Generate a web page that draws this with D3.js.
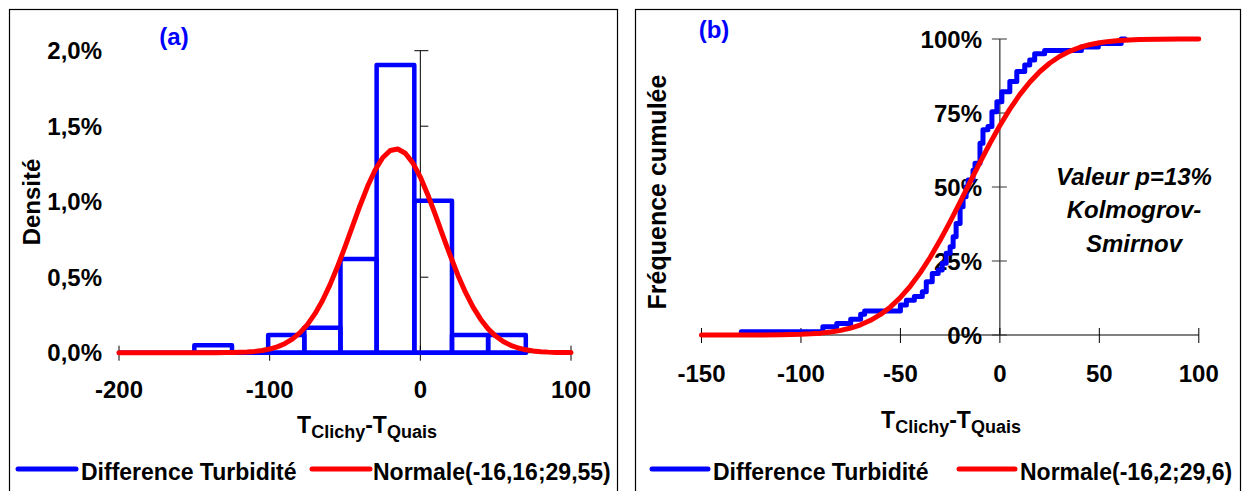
<!DOCTYPE html>
<html>
<head>
<meta charset="utf-8">
<script src="https://cdn.jsdelivr.net/npm/d3@7"></script>
<style>
  html, body { margin: 0; padding: 0; background: #fff; }
  svg { display: block; font-family: "Liberation Sans", Arial, sans-serif; }
</style>
</head>
<body>
<svg id="chart" width="1242" height="491"></svg>
<script>
// ---------- DATA ----------
// Panel (a): histogram of differences (density, %)
const binEdges = [-150, -125, -101, -77, -53, -29, -4, 21, 45, 70];
const binDensity = [0.05, 0, 0.117, 0.166, 0.62, 1.905, 1.007, 0.117, 0.117];
// Panel (a): fitted normal density (%)
const normX = [-200, -195, -190, -185, -180, -175, -170, -165, -160, -155,
  -150, -145, -140, -135, -130, -125, -120, -115, -110, -105,
  -100, -95, -90, -85, -80, -75, -70, -65, -60, -55,
  -50, -45, -40, -35, -30, -25, -20, -15, -10, -5,
  0, 5, 10, 15, 20, 25, 30, 35, 40, 45,
  50, 55, 60, 65, 70, 75, 80, 85, 90, 95, 100];
const normY = [0, 0, 0, 0, 0, 0, 0, 0, 0, 0,
  0.0001, 0.0001, 0.0002, 0.0004, 0.0008, 0.0015, 0.0028, 0.005, 0.0087, 0.0147,
  0.0241, 0.0384, 0.0595, 0.0895, 0.131, 0.186, 0.257, 0.344, 0.449, 0.569,
  0.701, 0.838, 0.975, 1.102, 1.210, 1.291, 1.339, 1.349, 1.321, 1.257,
  1.163, 1.045, 0.912, 0.774, 0.639, 0.512, 0.399, 0.302, 0.222, 0.158,
  0.110, 0.074, 0.049, 0.031, 0.019, 0.012, 0.007, 0.0038, 0.0021, 0.0011, 0.0006];
const yTicksA = [0, 0.5, 1.0, 1.5, 2.0];
const yTickLabelsA = ["0,0%", "0,5%", "1,0%", "1,5%", "2,0%"];
const xTicksA = [-200, -100, 0, 100];

// Panel (b): empirical cumulative frequency (%)
const ecdfX = [-130, -89, -82, -75, -70, -68, -50, -47, -43, -39, -37, -34, -31, -29, -27, -25,
  -23.5, -22, -20, -18.5, -17, -16, -13.5, -12.5, -10, -8.5, -6, -4, -1.5, 1, 5, 8.5,
  12.5, 15, 17.5, 22.5, 41, 49.5, 61, 63];
const ecdfY = [1.1, 2.8, 3.9, 5.3, 7.0, 8.1, 10.1, 11.7, 13.0, 14.6, 18.0, 20.8, 22.0, 24.2, 27.6, 29.8,
  33.2, 37.7, 43.3, 46.7, 50.1, 52.4, 55.7, 58.0, 64.8, 69.3, 70.4, 75.4, 78.8, 82.2, 85.6, 89.0,
  91.2, 92.9, 95.0, 96.1, 97.3, 98.5, 100, 100];
// Panel (b): fitted normal cumulative (%)
const cdfX = [-150, -140, -130, -120, -110, -100, -95, -90, -85, -80, -75, -70, -65, -60, -55,
  -50, -45, -40, -35, -30, -25, -20, -15, -10, -5, 0, 5, 10, 15, 20, 25, 30, 35, 40, 45,
  50, 55, 60, 70, 80, 90, 100];
const cdfY = [0, 0, 0.01, 0.02, 0.08, 0.23, 0.39, 0.63, 1.01, 1.56, 2.35, 3.46, 4.96, 6.94, 9.49,
  12.68, 16.53, 21.07, 26.27, 32.06, 38.32, 44.90, 51.62, 58.30, 64.74, 70.79, 76.31, 81.19, 85.41, 88.93, 91.80, 94.07, 95.82, 97.12, 98.07,
  98.73, 99.19, 99.50, 99.82, 99.94, 99.98, 100];
const yTicksB = [0, 25, 50, 75, 100];
const yTickLabelsB = ["0%", "25%", "50%", "75%", "100%"];
const xTicksB = [-150, -100, -50, 0, 50, 100];

const seriesNames = ["Difference Turbidité"];
const normNameA = "Normale(-16,16;29,55)";
const normNameB = "Normale(-16,2;29,6)";

// ---------- DRAW ----------
const BLUE = "#0000ff", RED = "#ff0000";
const svg = d3.select("#chart");

// frames
svg.append("rect").attr("x", 9.5).attr("y", 9.5).attr("width", 608).attr("height", 500)
  .attr("fill", "none").attr("stroke", "#000").attr("stroke-width", 1.2);
svg.append("rect").attr("x", 635.5).attr("y", 9.5).attr("width", 605).attr("height", 500)
  .attr("fill", "none").attr("stroke", "#000").attr("stroke-width", 1.2);

function subTitle(g, cx, baseY) {
  const t = g.append("text").attr("x", cx).attr("y", baseY).attr("text-anchor", "middle")
    .attr("font-weight", "bold").attr("fill", "#000");
  t.append("tspan").attr("font-size", 23).text("T");
  t.append("tspan").attr("font-size", 18).attr("dy", 5).text("Clichy");
  t.append("tspan").attr("font-size", 23).attr("dy", -5).text("-T");
  t.append("tspan").attr("font-size", 18).attr("dy", 5).text("Quais");
}

function legend(g, x0, lineW, texts, textX2, lineX2, y) {
  g.append("line").attr("x1", x0).attr("x2", x0 + lineW).attr("y1", y).attr("y2", y)
    .attr("stroke", BLUE).attr("stroke-width", 5).attr("stroke-linecap", "round");
  g.append("text").attr("x", x0 + lineW + 5).attr("y", y + 11).attr("font-size", 23)
    .attr("font-weight", "bold").text(texts[0]);
  g.append("line").attr("x1", lineX2).attr("x2", lineX2 + lineW).attr("y1", y).attr("y2", y)
    .attr("stroke", RED).attr("stroke-width", 5).attr("stroke-linecap", "round");
  g.append("text").attr("x", textX2).attr("y", y + 11).attr("font-size", 23)
    .attr("font-weight", "bold").text(texts[1]);
}

// ----- Panel (a) -----
{
  const g = svg.append("g");
  const x = d3.scaleLinear().domain([-200, 100]).range([119, 571]);
  const y = d3.scaleLinear().domain([0, 2]).range([352.7, 50.7]);

  // y tick labels
  g.selectAll(".ytl").data(yTicksA).join("text")
    .attr("x", 102).attr("y", d => y(d) + 8.5).attr("text-anchor", "end")
    .attr("font-size", 24).attr("font-weight", "bold").text((d, i) => yTickLabelsA[i]);
  // x tick labels
  g.selectAll(".xtl").data(xTicksA).join("text")
    .attr("x", d => x(d)).attr("y", 398).attr("text-anchor", "middle")
    .attr("font-size", 24).attr("font-weight", "bold").text(d => d);

  // axes lines
  g.append("line").attr("x1", x(-200)).attr("x2", x(100)).attr("y1", y(0)).attr("y2", y(0))
    .attr("stroke", "#000").attr("stroke-width", 1);
  g.selectAll(".xt").data(xTicksA).join("line")
    .attr("x1", d => x(d)).attr("x2", d => x(d)).attr("y1", y(0) - 7).attr("y2", y(0) + 8)
    .attr("stroke", "#000").attr("stroke-width", 1);
  g.append("line").attr("x1", x(0)).attr("x2", x(0)).attr("y1", y(2)).attr("y2", y(0))
    .attr("stroke", "#000").attr("stroke-width", 1);
  g.selectAll(".yt").data(yTicksA).join("line")
    .attr("x1", d => d === 2 ? x(0) - 6 : x(0)).attr("x2", x(0) + 8)
    .attr("y1", d => y(d)).attr("y2", d => y(d))
    .attr("stroke", "#000").attr("stroke-width", 1);

  // histogram
  g.append("line").attr("x1", x(-200)).attr("x2", x(binEdges[binEdges.length - 1]))
    .attr("y1", y(0)).attr("y2", y(0)).attr("stroke", BLUE).attr("stroke-width", 4.5)
    .attr("stroke-linecap", "round");
  const bins = binDensity.map((d, i) => ({ x0: binEdges[i], x1: binEdges[i + 1], v: d }));
  g.selectAll(".bar").data(bins.filter(b => b.v > 0)).join("rect")
    .attr("x", d => x(d.x0)).attr("width", d => x(d.x1) - x(d.x0))
    .attr("y", d => y(d.v)).attr("height", d => y(0) - y(d.v))
    .attr("fill", "none").attr("stroke", BLUE).attr("stroke-width", 4.5)
    .attr("stroke-linejoin", "round");

  // normal curve
  const line = d3.line().x(d => x(d[0])).y(d => y(d[1]));
  g.append("path").datum(normX.map((v, i) => [v, normY[i]]))
    .attr("d", line).attr("fill", "none").attr("stroke", RED).attr("stroke-width", 5)
    .attr("stroke-linecap", "round").attr("stroke-linejoin", "round");

  // titles
  g.append("text").attr("x", 174).attr("y", 45).attr("text-anchor", "middle")
    .attr("font-size", 24).attr("font-weight", "bold").attr("fill", BLUE).text("(a)");
  g.append("text").attr("transform", "translate(40,202) rotate(-90)").attr("text-anchor", "middle")
    .attr("font-size", 24).attr("font-weight", "bold").text("Densité");
  subTitle(g, 367, 433);

  legend(g, 18, 58, [seriesNames[0], normNameA], 373, 312, 469);
}

// ----- Panel (b) -----
{
  const g = svg.append("g");
  const x = d3.scaleLinear().domain([-150, 100]).range([701.5, 1198.8]);
  const y = d3.scaleLinear().domain([0, 100]).range([335, 39]);

  g.selectAll(".ytl").data(yTicksB).join("text")
    .attr("x", 982).attr("y", d => y(d) + 8.5).attr("text-anchor", "end")
    .attr("font-size", 24).attr("font-weight", "bold").text((d, i) => yTickLabelsB[i]);
  g.selectAll(".xtl").data(xTicksB).join("text")
    .attr("x", d => x(d)).attr("y", 382).attr("text-anchor", "middle")
    .attr("font-size", 24).attr("font-weight", "bold").text(d => d);

  g.append("line").attr("x1", x(-150)).attr("x2", x(100)).attr("y1", y(0)).attr("y2", y(0))
    .attr("stroke", "#000").attr("stroke-width", 1);
  g.selectAll(".xt").data(xTicksB).join("line")
    .attr("x1", d => x(d)).attr("x2", d => x(d)).attr("y1", y(0) - 7).attr("y2", y(0) + 8)
    .attr("stroke", "#000").attr("stroke-width", 1);
  g.append("line").attr("x1", x(0)).attr("x2", x(0)).attr("y1", y(100)).attr("y2", y(0))
    .attr("stroke", "#000").attr("stroke-width", 1);
  g.selectAll(".yt").data(yTicksB).join("line")
    .attr("x1", x(0) - 8).attr("x2", x(0) + 7)
    .attr("y1", d => y(d)).attr("y2", d => y(d))
    .attr("stroke", "#333").attr("stroke-width", 1);

  const stepLine = d3.line().x(d => x(d[0])).y(d => y(d[1])).curve(d3.curveStepAfter);
  g.append("path").datum(ecdfX.map((v, i) => [v, ecdfY[i]]))
    .attr("d", stepLine).attr("fill", "none").attr("stroke", BLUE).attr("stroke-width", 5)
    .attr("stroke-linecap", "round").attr("stroke-linejoin", "round");
  const line = d3.line().x(d => x(d[0])).y(d => y(d[1]));
  g.append("path").datum(cdfX.map((v, i) => [v, cdfY[i]]))
    .attr("d", line).attr("fill", "none").attr("stroke", RED).attr("stroke-width", 5)
    .attr("stroke-linecap", "round").attr("stroke-linejoin", "round");

  g.append("text").attr("x", 714).attr("y", 38).attr("text-anchor", "middle")
    .attr("font-size", 24).attr("font-weight", "bold").attr("fill", BLUE).text("(b)");
  g.append("text").attr("transform", "translate(666,192) rotate(-90)").attr("text-anchor", "middle")
    .attr("font-size", 25).attr("font-weight", "bold").text("Fréquence cumulée");
  subTitle(g, 951, 428);

  const ann = ["Valeur p=13%", "Kolmogrov-", "Smirnov"];
  g.selectAll(".ann").data(ann).join("text")
    .attr("x", 1134).attr("y", (d, i) => 185 + i * 33.3).attr("text-anchor", "middle")
    .attr("font-size", 24).attr("font-weight", "bold").attr("font-style", "italic").text(d => d);

  legend(g, 652, 56, [seriesNames[0], normNameB], 1020, 959, 469);
}
</script>
</body>
</html>
